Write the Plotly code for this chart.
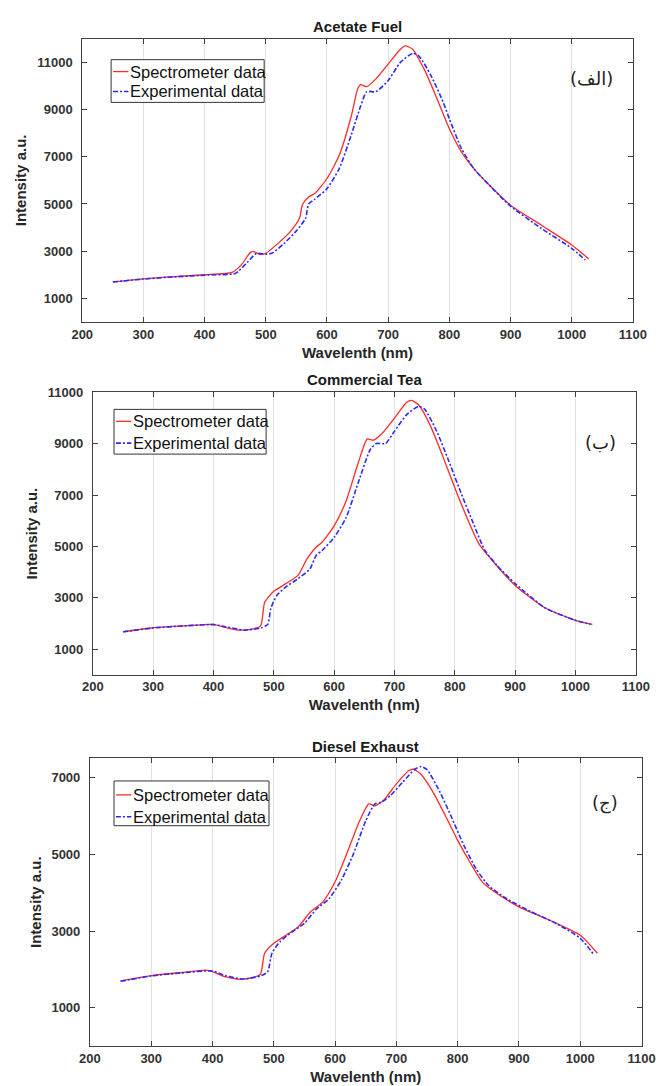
import plotly.graph_objects as go

# ---------------- Acetate Fuel ----------------
fuel_spec_nm = [250, 300, 350, 400, 445, 460, 475, 480, 490, 500, 520, 540, 555, 560, 570, 580,
                600, 620, 640, 650, 655, 665, 680, 700, 720, 728, 740, 760, 780, 800, 820, 840,
                860, 900, 950, 1000, 1028]
fuel_spec_int = [1700, 1830, 1920, 2000, 2100, 2420, 2950, 2980, 2870, 2910, 3330, 3830, 4390, 4980,
                 5300, 5440, 6080, 7060, 8750, 9870, 10060, 9970, 10300, 10930, 11560, 11700, 11560,
                 10650, 9450, 8190, 7200, 6500, 5940, 4950, 4110, 3260, 2670]
fuel_exp_nm = [250, 300, 350, 400, 450, 455, 470, 485, 500, 510, 530, 550, 565, 570, 580, 600, 620,
               640, 655, 665, 680, 700, 720, 740, 750, 770, 790, 800, 820, 840, 860, 900, 950, 1000,
               1022]
fuel_exp_int = [1690, 1820, 1910, 1980, 2050, 2140, 2530, 2910, 2870, 2910, 3330, 3860, 4390, 5000,
                5200, 5650, 6500, 7950, 9150, 9760, 9760, 10230, 11000, 11380, 11280, 10440, 9310,
                8610, 7340, 6500, 5940, 4910, 3970, 3120, 2630]

# ---------------- Commercial Tea ----------------
tea_spec_nm = [250, 300, 350, 400, 420, 440, 460, 478, 485, 500, 520, 540, 555, 570, 580, 600, 620,
               640, 655, 665, 680, 700, 720, 728, 740, 760, 780, 800, 820, 840, 860, 900, 950, 1000,
               1028]
tea_spec_int = [1670, 1830, 1900, 1960, 1840, 1740, 1760, 1900, 2830, 3250, 3550, 3870, 4510, 4970,
                5160, 5800, 6780, 8260, 9190, 9140, 9420, 10000, 10610, 10690, 10520, 9680, 8520,
                7290, 6130, 5100, 4510, 3480, 2600, 2120, 1960]
tea_exp_nm = [250, 300, 350, 400, 420, 450, 480, 490, 495, 505, 520, 540, 560, 570, 580, 600, 620,
              640, 660, 670, 685, 700, 720, 740, 750, 770, 790, 810, 830, 850, 870, 900, 950, 1000,
              1025]
tea_exp_int = [1670, 1820, 1900, 1950, 1870, 1740, 1830, 1960, 2580, 3090, 3420, 3740, 4130, 4640,
               4840, 5350, 6130, 7490, 8780, 9010, 9010, 9490, 10130, 10460, 10350, 9490, 8330,
               7100, 5940, 4840, 4260, 3550, 2600, 2120, 1960]

# ---------------- Diesel Exhaust ----------------
diesel_spec_nm = [250, 300, 350, 390, 400, 420, 440, 460, 478, 485, 500, 520, 540, 560, 580, 600,
                  620, 640, 655, 665, 680, 700, 720, 728, 740, 760, 780, 800, 820, 840, 860, 900,
                  950, 1000, 1028]
diesel_spec_int = [1700, 1840, 1920, 1980, 1940, 1810, 1750, 1770, 1870, 2420, 2680, 2890, 3110,
                   3500, 3760, 4280, 5050, 5870, 6310, 6260, 6420, 6830, 7170, 7210, 7080, 6610,
                   6000, 5360, 4790, 4280, 4020, 3630, 3280, 2890, 2420]
diesel_exp_nm = [250, 300, 350, 400, 420, 450, 480, 490, 497, 510, 530, 550, 570, 590, 610, 630,
                 650, 665, 675, 690, 710, 730, 740, 750, 770, 790, 810, 830, 850, 880, 920, 960,
                 1000, 1022]
diesel_exp_int = [1690, 1830, 1910, 1960, 1840, 1750, 1840, 1940, 2420, 2720, 2980, 3200, 3580,
                  3840, 4320, 5010, 5870, 6310, 6350, 6520, 6870, 7210, 7280, 7200, 6650, 5960,
                  5230, 4620, 4190, 3840, 3500, 3200, 2810, 2390]

titles = ["Acetate Fuel", "Commercial Tea", "Diesel Exhaust"]
panel_tags = ["(الف)", "(ب)", "(ج)"]
y_ranges = [[0, 12000], [0, 11000], [0, 7500]]
y_ticks = [[1000, 3000, 5000, 7000, 9000, 11000],
           [1000, 3000, 5000, 7000, 9000, 11000],
           [1000, 3000, 5000, 7000]]
x_ticks = list(range(200, 1101, 100))
series_names = ["Spectrometer data", "Experimental data"]
series_colors = ["#ff2a2a", "#2a2aff"]
series_dash = ["solid", "5px,2px,2px,2px"]
series_width = [1.3, 1.6]

panels = [
    (fuel_spec_nm, fuel_spec_int, fuel_exp_nm, fuel_exp_int),
    (tea_spec_nm, tea_spec_int, tea_exp_nm, tea_exp_int),
    (diesel_spec_nm, diesel_spec_int, diesel_exp_nm, diesel_exp_int),
]

W, H = 670, 1086
# plot boxes in page pixels: left, right, top, bottom
boxes = [(74, 646, 32, 317), (85, 649, 388, 672), (82, 655, 756, 1046)]
# key boxes in page pixels: left, right, top, bottom, and the two row centres
keys = [(104, 263, 53, 96, 65, 85), (107, 265, 405, 450, 417, 439), (107, 268, 779, 824, 793, 815)]
# text positions in page pixels
title_y = [20, 375, 744]
tag_xy = [(603, 72), (612, 438), (617, 801)]

AX = "#404040"
TXT = "#262626"
FONT = "Liberation Sans, Arial, sans-serif"


def px(x):
    return x / W


def py(y):
    return 1 - y / H


fig = go.Figure()
layout = dict(
    width=W, height=H, margin=dict(l=0, r=0, t=0, b=0),
    paper_bgcolor="white", plot_bgcolor="white",
    font=dict(family=FONT, color=TXT),
    showlegend=False, annotations=[], shapes=[],
)

for i, (sx, sy, ex, ey) in enumerate(panels):
    n = "" if i == 0 else str(i + 1)
    for k, (xs, ys) in enumerate([(sx, sy), (ex, ey)]):
        fig.add_trace(go.Scatter(
            x=xs, y=ys, name=series_names[k], mode="lines",
            line=dict(color=series_colors[k], width=series_width[k], dash=series_dash[k],
                      shape="spline", smoothing=0.6),
            xaxis="x" + n, yaxis="y" + n))

    l, r, t, b = boxes[i]
    layout["xaxis" + n] = dict(
        domain=[px(l), px(r)], range=[200, 1100], tickvals=x_ticks,
        ticktext=[str(v) for v in x_ticks], anchor="y" + n,
        showline=True, linecolor=AX, linewidth=1, mirror="ticks",
        ticks="inside", ticklen=5, tickcolor=AX,
        showgrid=True, gridcolor="#e2e2e2", gridwidth=1, zeroline=False,
        tickfont=dict(size=13, weight="bold", color="#333333"), ticklabelstandoff=0,
        title=dict(text="Wavelenth (nm)", font=dict(size=15, weight="bold", color=TXT), standoff=6),
    )
    layout["yaxis" + n] = dict(
        domain=[py(b), py(t)], range=y_ranges[i], tickvals=y_ticks[i],
        ticktext=[str(v) for v in y_ticks[i]], anchor="x" + n,
        showline=True, linecolor=AX, linewidth=1, mirror="ticks",
        ticks="inside", ticklen=5, tickcolor=AX,
        showgrid=False, zeroline=False,
        tickfont=dict(size=13, weight="bold", color="#333333"), ticklabelstandoff=6,
        title=dict(text="Intensity a.u.", font=dict(size=15, weight="bold", color=TXT), standoff=6),
    )

    # key: framed box with short line samples and series names
    kl, kr, kt, kb, r1, r2 = keys[i]
    layout["shapes"].append(dict(
        type="rect", xref="paper", yref="paper", x0=px(kl), x1=px(kr), y0=py(kb), y1=py(kt),
        line=dict(color="#333333", width=1), fillcolor="white", layer="above"))
    for k, ry in enumerate([r1, r2]):
        layout["shapes"].append(dict(
            type="line", xref="paper", yref="paper", x0=px(kl + 2), x1=px(kl + 18),
            y0=py(ry), y1=py(ry), layer="above",
            line=dict(color=series_colors[k], width=series_width[k], dash=series_dash[k])))
        layout["annotations"].append(dict(
            text=series_names[k], x=px(kl + 18), y=py(ry), xref="paper", yref="paper",
            showarrow=False, xanchor="left", yanchor="middle",
            font=dict(size=16.5, family=FONT, color="#111111")))

    layout["annotations"].append(dict(
        text=titles[i], x=px((l + r) / 2), y=py(title_y[i]), xref="paper", yref="paper",
        showarrow=False, xanchor="center", yanchor="middle",
        font=dict(size=15, weight="bold", color="#1a1a1a")))
    tx, ty = tag_xy[i]
    layout["annotations"].append(dict(
        text=panel_tags[i], x=px(tx), y=py(ty), xref="paper", yref="paper",
        showarrow=False, xanchor="center", yanchor="middle",
        font=dict(size=18, family="DejaVu Sans, Noto Sans, sans-serif", color="#222222")))

fig.update_layout(**layout)
fig.write_html("out.html")
